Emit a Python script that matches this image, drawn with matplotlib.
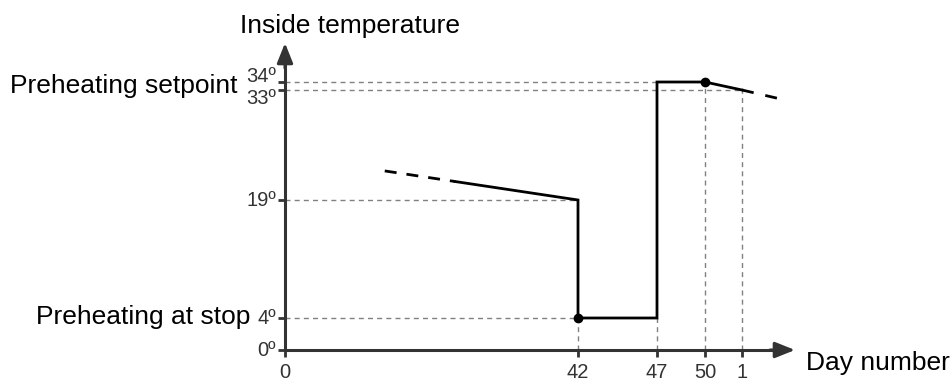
import numpy as np
import matplotlib
matplotlib.use("Agg")
import matplotlib.pyplot as plt

plt.rcParams['font.family'] = ['Liberation Sans', 'DejaVu Sans']

# tick values (the "1" is day 1 of the next cycle, drawn as day 51)
days = [0, 42, 47, 50, 51]
day_labels = ['0', '42', '47', '50', '1']
temps = [0, 4, 19, 33, 34]
temp_labels = ['0º', '4º', '19º', '33º', '34º']

# temperature profile
trend_before_x = [14.3, 24.4]
trend_before_y = [22.7, 21.35]
profile_x = [24.4, 42, 42, 47, 47, 50, 51]
profile_y = [21.35, 19, 4, 4, 34, 34, 33]
trend_after_x = [51, 52]
trend_after_y = [33, 31.9]
dots_x = [42, 50]
dots_y = [4, 34]

# schematic (non proportional) axis layout: value -> pixel
x_anchor = [-41, 0, 42, 47, 50, 51, 58]
x_pixel = [0, 285, 578, 657, 705, 742, 1001]
y_anchor = [-5, 0, 4, 19, 33, 34, 46]
y_pixel = [-9, 31, 63, 181, 291, 299, 395]


def fx(v):
    return np.interp(v, x_anchor, x_pixel)


def fx_inv(p):
    return np.interp(p, x_pixel, x_anchor)


def fy(v):
    return np.interp(v, y_anchor, y_pixel)


def fy_inv(p):
    return np.interp(p, y_pixel, y_anchor)


fig = plt.figure(figsize=(9.52, 3.81), dpi=100)
ax = fig.add_axes([0, 0, 1, 1])
ax.set_xscale('function', functions=(fx, fx_inv))
ax.set_yscale('function', functions=(fy, fy_inv))
ax.set_xlim(fx_inv(0), fx_inv(952))
ax.set_ylim(fy_inv(0), fy_inv(381))

axis_col = '#333333'
grid_col = '#808080'
x_tip = fx_inv(795)
y_tip = fy_inv(381 - 43)

# axes with arrows
for side in ['top', 'right']:
    ax.spines[side].set_visible(False)
ax.spines['left'].set_position(('data', 0))
ax.spines['bottom'].set_position(('data', 0))
ax.spines['left'].set_bounds(0, fy_inv(381 - 55))
ax.spines['bottom'].set_bounds(0, fx_inv(783))
for side in ['left', 'bottom']:
    ax.spines[side].set_color(axis_col)
    ax.spines[side].set_linewidth(2.2)
head = '-|>,head_length=1.2,head_width=0.48'
ax.annotate('', xy=(x_tip, 0), xytext=(fx_inv(770), 0),
            arrowprops=dict(arrowstyle=head, color=axis_col, lw=2.2,
                            shrinkA=0, shrinkB=0))
ax.annotate('', xy=(0, y_tip), xytext=(0, fy_inv(381 - 68)),
            arrowprops=dict(arrowstyle=head, color=axis_col, lw=2.2,
                            shrinkA=0, shrinkB=0))

ax.set_xticks(days)
ax.set_yticks(temps)
ax.set_xticklabels([])
ax.set_yticklabels([])
ax.minorticks_off()
ax.tick_params(direction='out', length=5, width=2, color=axis_col)

# tick labels
y_offsets = [0, 0, 0, -8, 5]
for t, lab, dy in zip(temps, temp_labels, y_offsets):
    ax.annotate(lab, xy=(0, t), xytext=(-9, dy), textcoords='offset pixels',
                ha='right', va='center', fontsize=14.5, color=axis_col)
for d, lab in zip(days, day_labels):
    ax.annotate(lab, xy=(d, 0), xytext=(0, -13), textcoords='offset pixels',
                ha='center', va='top', fontsize=14.5, color=axis_col)

# gray reference lines
dash = dict(color=grid_col, lw=1, dashes=(3.6, 3))
ax.plot([0, 42], [19, 19], **dash)
ax.plot([0, 42], [4, 4], **dash)
ax.plot([0, 47], [34, 34], **dash)
ax.plot([0, 51], [33, 33], **dash)
ax.plot([42, 42], [0, 4], **dash)
ax.plot([47, 47], [0, 4], **dash)
ax.plot([50, 50], [0, 34], **dash)
ax.plot([51, 51], [0, 33], **dash)

# temperature profile
ax.plot(trend_before_x, trend_before_y, color='black', lw=2, dashes=(4.3, 3.6))
ax.plot(profile_x, profile_y, color='black', lw=2, solid_joinstyle='miter')
ax.plot(trend_after_x, trend_after_y, color='black', lw=2, dashes=(4.3, 4.3))
ax.plot(dots_x, dots_y, 'o', color='black', ms=6)

# labels
ax.annotate('Inside temperature', xy=(0, y_tip), xytext=(65, 17),
            textcoords='offset pixels', ha='center', va='center', fontsize=19)
ax.annotate('Preheating setpoint', xy=(0, 33.5), xytext=(-48, 0),
            textcoords='offset pixels', ha='right', va='center', fontsize=19)
ax.annotate('Preheating at stop', xy=(0, 4), xytext=(-35, 1),
            textcoords='offset pixels', ha='right', va='center', fontsize=19)
ax.annotate('Day number', xy=(x_tip, 0), xytext=(11, -13),
            textcoords='offset pixels', ha='left', va='center', fontsize=19)

fig.savefig('out.png', dpi=100)
